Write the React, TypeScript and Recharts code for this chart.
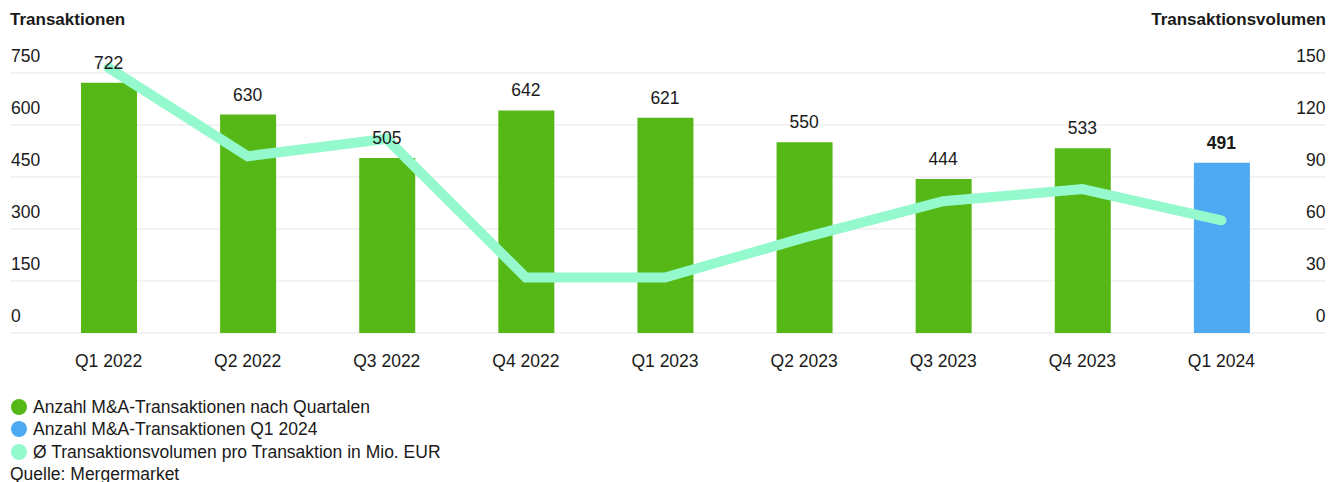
import { ComposedChart, Bar, Line, XAxis, YAxis, CartesianGrid, Cell, LabelList } from 'recharts';

const QUARTERS = ['Q1 2022', 'Q2 2022', 'Q3 2022', 'Q4 2022', 'Q1 2023', 'Q2 2023', 'Q3 2023', 'Q4 2023', 'Q1 2024'];
const TRANSACTIONS = [722, 630, 505, 642, 621, 550, 444, 533, 491];
const AVG_VOLUME = [153, 102, 112, 32, 32, 55, 76, 83, 65];
const LEFT_TICKS = [0, 150, 300, 450, 600, 750];
const RIGHT_TICKS = [0, 30, 60, 90, 120, 150];

const LEGEND = [
  { label: 'Anzahl M&A-Transaktionen nach Quartalen', color: '#55b816' },
  { label: 'Anzahl M&A-Transaktionen Q1 2024', color: '#4da9f2' },
  { label: 'Ø Transaktionsvolumen pro Transaktion in Mio. EUR', color: '#95f9ce' },
];

const data = QUARTERS.map((q, i) => ({ quarter: q, count: TRANSACTIONS[i], volume: AVG_VOLUME[i] }));

const FONT = '"Liberation Sans", Arial, sans-serif';
const TEXT = '#1a1a1a';
const W = 1328;

const leftTick = ({ y, payload }: any) => (
  <text x={11} y={y - 11.5} textAnchor="start" fontSize={17.5} fill={TEXT} fontFamily={FONT}>
    {payload.value}
  </text>
);

const rightTick = ({ y, payload }: any) => (
  <text x={1325.5} y={y - 11.5} textAnchor="end" fontSize={17.5} fill={TEXT} fontFamily={FONT}>
    {payload.value}
  </text>
);

const xTick = ({ x, payload }: any) => (
  <text x={x} y={367} textAnchor="middle" fontSize={17.5} fill={TEXT} fontFamily={FONT}>
    {payload.value}
  </text>
);

const barLabel = (props: any) => {
  const { x, y, value, index } = props;
  const last = index === QUARTERS.length - 1;
  return (
    <text x={x} y={y - 14} textAnchor="middle" fontSize={17.5} fontWeight={last ? 700 : 400} fill={TEXT} fontFamily={FONT}>
      {value}
    </text>
  );
};

export default function App() {
  return (
    <div
      style={{
        position: 'relative',
        width: W,
        height: 482,
        overflow: 'hidden',
        fontFamily: FONT,
        color: TEXT,
      }}
    >
      <style>{'body { margin: 0; }'}</style>
      <div style={{ position: 'absolute', left: 10, top: 9, fontSize: 17, fontWeight: 700, lineHeight: '22px' }}>
        Transaktionen
      </div>
      <div style={{ position: 'absolute', right: 2, top: 9, fontSize: 17, fontWeight: 700, lineHeight: '22px' }}>
        Transaktionsvolumen
      </div>
      <ComposedChart width={W} height={388} data={data} margin={{ top: 55.67, right: 1, bottom: 0, left: 9 }}>
        <CartesianGrid yAxisId="left" vertical={false} stroke="#efefef" strokeWidth={1.5} syncWithTicks />
        <XAxis
          dataKey="quarter"
          axisLine={false}
          tickLine={false}
          height={55}
          padding={{ left: 29, right: 35 }}
          tick={xTick}
          interval={0}
        />
        <YAxis
          yAxisId="left"
          domain={[0, 800]}
          ticks={LEFT_TICKS}
          width={1}
          interval={0}
          axisLine={false}
          tickLine={false}
          tick={leftTick}
        />
        <YAxis
          yAxisId="right"
          orientation="right"
          domain={[0, 160]}
          ticks={RIGHT_TICKS}
          width={1}
          interval={0}
          axisLine={false}
          tickLine={false}
          tick={rightTick}
        />
        <Bar yAxisId="left" dataKey="count" barSize={56} isAnimationActive={false}>
          {data.map((d, i) => (
            <Cell key={d.quarter} fill={i === data.length - 1 ? '#4da9f2' : '#55b816'} />
          ))}
        </Bar>
        <Line
          yAxisId="right"
          dataKey="volume"
          stroke="#95f9ce"
          strokeWidth={10}
          strokeLinecap="round"
          dot={false}
          activeDot={false}
          type="linear"
          isAnimationActive={false}
        />
        <Line yAxisId="left" dataKey="count" stroke="none" dot={false} activeDot={false} isAnimationActive={false}>
          <LabelList dataKey="count" content={barLabel} />
        </Line>
      </ComposedChart>
      <div style={{ position: 'absolute', left: 0, top: 395.75, fontSize: 17.5, lineHeight: '22.4px' }}>
        {LEGEND.map((l) => (
          <div key={l.label} style={{ display: 'flex', alignItems: 'center', height: 22.4 }}>
            <span
              style={{ display: 'inline-block', width: 16, height: 16, borderRadius: 8, background: l.color, marginLeft: 11, marginRight: 6 }}
            />
            <span>{l.label}</span>
          </div>
        ))}
        <div style={{ paddingLeft: 10, height: 22.4 }}>Quelle: Mergermarket</div>
      </div>
    </div>
  );
}
